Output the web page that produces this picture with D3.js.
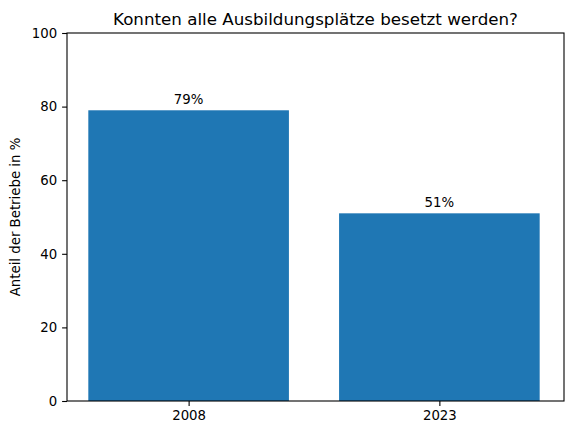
<!DOCTYPE html>
<html><head><meta charset="utf-8">
<script src="https://cdn.jsdelivr.net/npm/d3@7"></script>
<style>body{margin:0;background:#fff}text{font-family:"DejaVu Sans",sans-serif}</style>
</head><body><svg id="c" width="571" height="435"></svg>
<script>
const categories = ["2008", "2023"];
const values = [79, 51];
const yTicks = [0, 20, 40, 60, 80, 100];
const title = "Konnten alle Ausbildungsplätze besetzt werden?";
const yLabel = "Anteil der Betriebe in %";

const svg = d3.select("#c");
const L = 67, R = 564, T = 33, B = 401;
const x = d3.scaleLinear().domain([-0.485, 1.497]).range([L, R]);
const y = d3.scaleLinear().domain([0, 100]).range([B, T]);
const w = 0.8;

svg.selectAll("rect.bar").data(values).join("rect")
  .attr("x", (d, i) => x(i - w / 2)).attr("width", (d, i) => x(i + w / 2) - x(i - w / 2))
  .attr("y", d => y(d)).attr("height", d => B - y(d)).attr("fill", "#1f77b4");

svg.selectAll("text.lab").data(values).join("text")
  .attr("x", (d, i) => x(i)).attr("y", d => y(d) - 6).attr("text-anchor", "middle")
  .attr("font-size", 13.3).text(d => d + "%");

const ya = svg.append("g").attr("transform", `translate(${L},0)`)
  .call(d3.axisLeft(y).tickValues(yTicks).tickSize(4.9).tickPadding(4.9));
const xa = svg.append("g").attr("transform", `translate(0,${B})`)
  .call(d3.axisBottom(x).tickValues([0, 1]).tickFormat(i => categories[i]).tickSize(4.9).tickPadding(4.9));
[ya, xa].forEach(a => { a.select(".domain").remove(); a.selectAll("text").attr("font-size", 13.3).attr("font-family", "DejaVu Sans").attr("fill", "#000"); a.selectAll("line").attr("stroke", "#000").attr("stroke-width", 1.1); });

svg.append("rect").attr("x", L).attr("y", T).attr("width", R - L).attr("height", B - T)
  .attr("fill", "none").attr("stroke", "#000").attr("stroke-width", 1.1);

svg.append("text").attr("x", (L + R) / 2).attr("y", T - 8).attr("text-anchor", "middle")
  .attr("font-size", 16.7).text(title);
svg.append("text").attr("transform", `translate(20,${(T + B) / 2}) rotate(-90)`)
  .attr("text-anchor", "middle").attr("font-size", 13.3).text(yLabel);
</script></body></html>
